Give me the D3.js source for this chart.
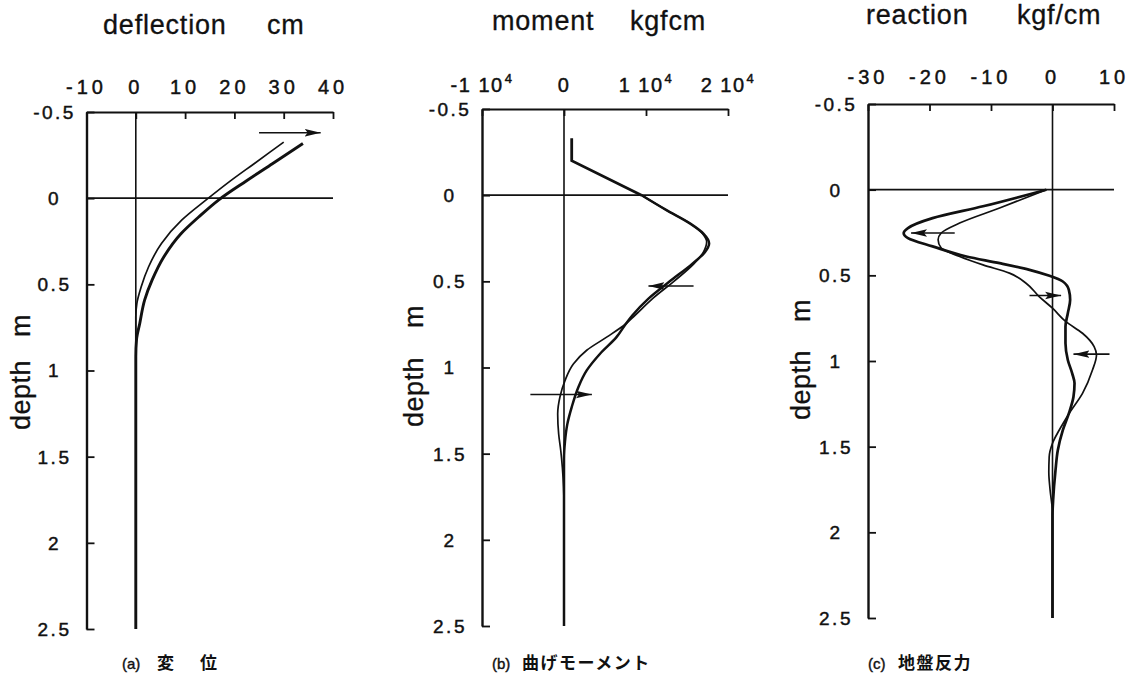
<!DOCTYPE html>
<html>
<head>
<meta charset="utf-8">
<script src="https://cdn.jsdelivr.net/npm/d3@7"></script>
<style>
  body { margin: 0; background: #fff; }
  svg text { font-family: "Liberation Sans", Arial, Helvetica, sans-serif; fill: #111; }
  svg text.jp { font-family: "Noto Sans CJK JP", "Noto Sans", sans-serif; font-weight: 700; }
</style>
</head>
<body>
<svg id="chart" width="1132" height="679"></svg>
<script>
// ---- depth axis (m), shared by all three panels ----
const depthTicks = [-0.5, 0, 0.5, 1, 1.5, 2, 2.5];
const depthTickLabels = ["-0.5", "0", "0.5", "1", "1.5", "2", "2.5"];

// ---- (a) deflection, cm ----
const deflectionTicks = [-10, 0, 10, 20, 30, 40];
const deflectionThinDepth = [-0.325, -0.2, -0.1, 0.0075, 0.128, 0.263, 0.398, 0.514, 0.61, 0.69, 2.5];
const deflectionThin      = [30, 24.0, 19.2, 14.4, 9.3, 5.2, 2.6, 1.1, 0.22, 0, 0];
const deflectionThickDepth = [-0.317, -0.2, -0.1, 0.008, 0.108, 0.205, 0.34, 0.476, 0.59, 0.727, 0.82, 0.92, 2.5];
const deflectionThick      = [33.9, 27.7, 22.4, 16.9, 12.8, 9.2, 5.7, 3.3, 1.8, 0.8, 0.15, 0, 0];
const deflectionArrows = [{ depth: -0.38, from: 25, to: 37.5 }];

// ---- (b) bending moment, kgf·cm ----
const momentTicks = [-10000, 0, 10000, 20000];
const momentTickLabels = [["-1 10", "4"], ["0", ""], ["1 10", "4"], ["2 10", "4"]];
const momentHeadDepth = [-0.33, -0.2, 0];
const momentHead      = [940, 940, 9450];
const momentThickDepth = [0, 0.087, 0.165, 0.223, 0.28, 0.33, 0.40, 0.50, 0.60, 0.70, 0.746, 0.824, 0.92, 1.017, 1.114, 1.23, 1.33, 1.43, 1.53, 2.5];
const momentThick      = [9450, 12500, 15400, 17000, 17700, 17200, 15600, 12900, 10300, 8300, 7550, 6400, 4400, 2770, 1750, 940, 400, 120, 0, 0];
const momentThinDepth = [0, 0.087, 0.165, 0.223, 0.27, 0.33, 0.40, 0.50, 0.60, 0.70, 0.746, 0.824, 0.90, 0.98, 1.076, 1.17, 1.27, 1.386, 1.48, 1.58, 1.8, 2.5];
const momentThin      = [9450, 12500, 15400, 16900, 17400, 17000, 15800, 13400, 10800, 8600, 7550, 5200, 2770, 1140, 120, -490, -770, -650, -400, -200, 0, 0];
const momentArrows = [
  { depth: 0.527, from: 15800, to: 10300 },
  { depth: 1.157, from: -4100, to: 3400 }
];

// ---- (c) subgrade reaction, kgf/cm ----
const reactionTicks = [-30, -20, -10, 0, 10];
const reactionThickDepth = [0, 0.097, 0.166, 0.224, 0.253, 0.283, 0.331, 0.39, 0.429, 0.468, 0.503, 0.536, 0.585, 0.643, 0.721, 0.799, 0.897, 0.994, 1.072, 1.13, 1.209, 1.306, 1.404, 1.52, 1.637, 1.813, 1.9, 2.5];
const reactionThick      = [-1, -11.3, -19.5, -23.5, -24.2, -23.5, -19.5, -14.0, -8.6, -3.74, -0.49, 1.68, 2.66, 2.87, 2.49, 2.11, 2.11, 2.49, 3.2, 3.58, 3.41, 2.66, 1.68, 0.87, 0.49, 0.1, 0, 0];
const reactionThinDepth = [0, 0.107, 0.195, 0.253, 0.292, 0.341, 0.39, 0.439, 0.487, 0.546, 0.624, 0.692, 0.77, 0.838, 0.916, 0.965, 1.053, 1.189, 1.306, 1.404, 1.48, 1.56, 1.65, 1.75, 1.89, 2.5];
const reactionThin      = [-1, -8.6, -15.1, -18.1, -18.6, -18.1, -15.1, -11.3, -7.0, -4.3, -2.17, 0, 2.17, 4.88, 6.77, 7.15, 6.5, 4.88, 2.71, 1.08, 0, -0.54, -0.6, -0.4, 0, 0];
const reactionArrows = [
  { depth: 0.253, from: -15.9, to: -23.0 },
  { depth: 0.618, from: -3.74, to: 1.4 },
  { depth: 0.96, from: 9.27, to: 3.41 }
];

// ---- titles and captions ----
const panelTitles = [["deflection", "cm"], ["moment", "kgfcm"], ["reaction", "kgf/cm"]];
const panelCaptions = [["(a)", "変", "位"], ["(b)", "曲げモーメント"], ["(c)", "地盤反力"]];

const zip = (ds, vs) => ds.map((d, i) => ({ d, v: vs[i] }));

const svg = d3.select("#chart");
svg.append("rect").attr("width", 1132).attr("height", 679).attr("fill", "#fff");

const defs = svg.append("defs");
defs.append("marker")
  .attr("id", "head")
  .attr("markerUnits", "userSpaceOnUse")
  .attr("viewBox", "0 -5 18 10")
  .attr("markerWidth", 18).attr("markerHeight", 10)
  .attr("refX", 16).attr("refY", 0)
  .attr("orient", "auto")
  .append("path")
  .attr("d", "M0,-3.8L16,0L0,3.8L3,0Z")
  .attr("fill", "#111");

const panels = [
  {
    xDomain: [-10, 40], xRange: [86.5, 333], yRange: [112, 629],
    ticks: deflectionTicks, tickLabels: deflectionTicks.map(String), tickSpacing: 4, tickBase: 94,
    title: panelTitles[0], titleX: [103, 267], titleY: 34,
    yTitleX: 30, yTitleY: [430, 337],
    caption: panelCaptions[0], captionX: [122, 157, 200],
    curves: [
      { pts: zip(deflectionThinDepth, deflectionThin), w: 1.7 },
      { pts: zip(deflectionThickDepth, deflectionThick), w: 2.9 }
    ],
    linear: [],
    arrows: deflectionArrows
  },
  {
    xDomain: [-10000, 20000], xRange: [482, 728], yRange: [109, 626],
    ticks: momentTicks, tickLabels: momentTickLabels, tickSpacing: 1.5, tickBase: 92,
    title: panelTitles[1], titleX: [492, 630], titleY: 30,
    yTitleX: 423, yTitleY: [427, 328],
    caption: panelCaptions[1], captionX: [492, 522],
    curves: [
      { pts: zip(momentThinDepth, momentThin), w: 1.7 },
      { pts: zip(momentThickDepth, momentThick), w: 2.5 }
    ],
    linear: [{ pts: zip(momentHeadDepth, momentHead), w: 2.8 }],
    arrows: momentArrows
  },
  {
    xDomain: [-30, 10], xRange: [868, 1114], yRange: [104, 618],
    ticks: reactionTicks, tickLabels: reactionTicks.map(String), tickSpacing: 4, tickBase: 84,
    title: panelTitles[2], titleX: [866, 1017], titleY: 24,
    yTitleX: 810, yTitleY: [420, 322],
    caption: panelCaptions[2], captionX: [868, 898],
    curves: [
      { pts: zip(reactionThinDepth, reactionThin), w: 1.7 },
      { pts: zip(reactionThickDepth, reactionThick), w: 2.7 }
    ],
    linear: [],
    arrows: reactionArrows
  }
];

panels.forEach(p => {
  const x = d3.scaleLinear().domain(p.xDomain).range(p.xRange);
  const y = d3.scaleLinear().domain([depthTicks[0], depthTicks[depthTicks.length - 1]]).range(p.yRange);
  const g = svg.append("g");
  const left = x(p.xDomain[0]);
  const top = y(depthTicks[0]);

  // top value axis, ticks pointing into the plot
  const topAxis = g.append("g")
    .attr("transform", `translate(0,${top})`)
    .call(d3.axisTop(x).tickValues(p.ticks).tickSizeInner(-7).tickSizeOuter(0).tickFormat(""));
  topAxis.select(".domain").attr("stroke", "#111").attr("stroke-width", 2.2);
  topAxis.selectAll(".tick line").attr("stroke", "#111").attr("stroke-width", 1.8);

  // left depth axis
  const leftAxis = g.append("g")
    .attr("transform", `translate(${left},0)`)
    .call(d3.axisLeft(y).tickValues(depthTicks).tickSizeInner(-8).tickSizeOuter(0).tickFormat(""));
  leftAxis.select(".domain").attr("stroke", "#111").attr("stroke-width", 2.4);
  leftAxis.selectAll(".tick line").attr("stroke", "#111").attr("stroke-width", 1.8);

  // depth tick labels
  g.selectAll("text.dlab").data(depthTicks).join("text")
    .attr("class", "dlab")
    .attr("x", left - 32).attr("y", d => y(d)).attr("dy", "0.36em")
    .attr("text-anchor", "middle")
    .attr("font-size", 19).attr("letter-spacing", 2.5)
    .attr("stroke", "#111").attr("stroke-width", 0.45)
    .text((d, i) => depthTickLabels[i]);

  // value tick labels
  const tl = g.selectAll("text.xlab").data(p.ticks).join("text")
    .attr("class", "xlab")
    .attr("x", d => x(d)).attr("y", p.tickBase)
    .attr("text-anchor", "middle")
    .attr("font-size", 20).attr("letter-spacing", p.tickSpacing)
    .attr("stroke", "#111").attr("stroke-width", 0.45);
  tl.each(function (d, i) {
    const lab = p.tickLabels[i];
    const t = d3.select(this);
    if (Array.isArray(lab)) {
      t.append("tspan").text(lab[0]);
      if (lab[1]) t.append("tspan").attr("font-size", 13).attr("dy", -9).attr("dx", 1).text(lab[1]);
    } else {
      t.text(lab);
    }
  });

  // zero reference lines
  g.append("line")
    .attr("x1", x(0)).attr("x2", x(0)).attr("y1", top).attr("y2", y(2.5))
    .attr("stroke", "#111").attr("stroke-width", 1.6);
  g.append("line")
    .attr("x1", left).attr("x2", x(p.xDomain[1])).attr("y1", y(0)).attr("y2", y(0))
    .attr("stroke", "#111").attr("stroke-width", 1.6);

  // profiles along depth
  const smooth = d3.line().x(d => x(d.v)).y(d => y(d.d)).curve(d3.curveMonotoneY);
  const straight = d3.line().x(d => x(d.v)).y(d => y(d.d));
  p.curves.forEach(c => {
    g.append("path").attr("d", smooth(c.pts))
      .attr("fill", "none").attr("stroke", "#111").attr("stroke-width", c.w)
      .attr("stroke-linejoin", "round");
  });
  p.linear.forEach(c => {
    g.append("path").attr("d", straight(c.pts))
      .attr("fill", "none").attr("stroke", "#111").attr("stroke-width", c.w)
      .attr("stroke-linejoin", "miter");
  });

  // direction arrows
  p.arrows.forEach(a => {
    g.append("line")
      .attr("x1", x(a.from)).attr("x2", x(a.to)).attr("y1", y(a.depth)).attr("y2", y(a.depth))
      .attr("stroke", "#111").attr("stroke-width", 1.6)
      .attr("marker-end", "url(#head)");
  });

  // panel title
  g.selectAll("text.title").data(p.title).join("text")
    .attr("class", "title")
    .attr("x", (d, i) => p.titleX[i]).attr("y", p.titleY)
    .attr("font-size", 27).attr("letter-spacing", 0.8)
    .attr("stroke", "#111").attr("stroke-width", 0.3)
    .text(d => d);

  // depth axis title
  [["depth", p.yTitleY[0]], ["m", p.yTitleY[1]]].forEach(([s, yy]) => {
    g.append("text")
      .attr("transform", `translate(${p.yTitleX},${yy}) rotate(-90)`)
      .attr("font-size", 27).attr("letter-spacing", 0.5)
      .attr("stroke", "#111").attr("stroke-width", 0.3)
      .text(s);
  });

  // caption below the panel
  p.caption.forEach((s, i) => {
    g.append("text")
      .attr("class", i === 0 ? "" : "jp")
      .attr("x", p.captionX[i]).attr("y", 669)
      .attr("font-size", i === 0 ? 15 : 17)
      .attr("letter-spacing", i === 0 ? 0 : 1.5)
      .attr("stroke", i === 0 ? "#111" : "none").attr("stroke-width", 0.4)
      .text(s);
  });
});
</script>
</body>
</html>
